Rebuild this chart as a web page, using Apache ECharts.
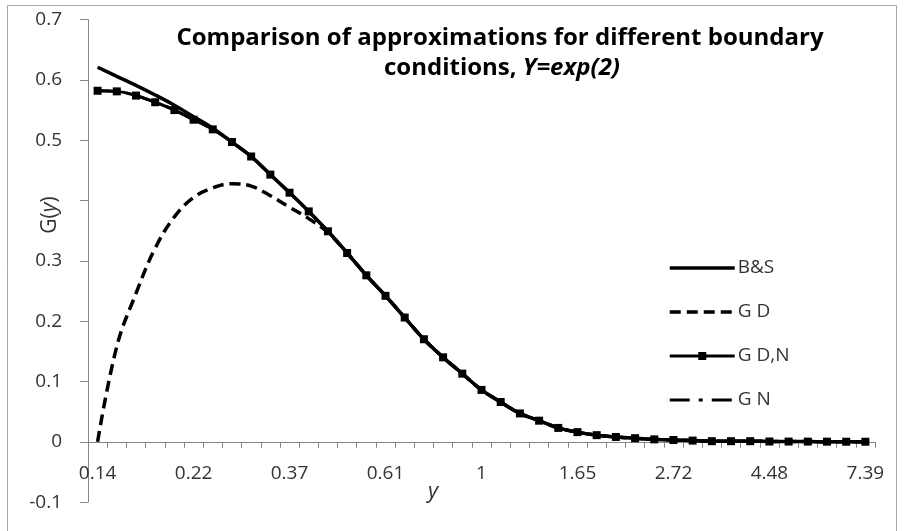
<!DOCTYPE html>
<html>
<head>
<meta charset="utf-8">
<script src="https://cdn.jsdelivr.net/npm/echarts@6/dist/echarts.min.js"></script>
<style>html,body{margin:0;padding:0;background:#fff}#c{width:904px;height:531px}</style>
</head>
<body>
<div id="c"></div>
<script>
const categories = ["0.14","0.15","0.17","0.18","0.20","0.22","0.25","0.27","0.30","0.33",
  "0.37","0.41","0.45","0.50","0.55","0.61","0.67","0.74","0.82","0.90",
  "1","1.11","1.22","1.35","1.49","1.65","1.82","2.01","2.23","2.46",
  "2.72","3.00","3.32","3.67","4.06","4.48","4.95","5.47","6.05","6.69","7.39"];

const seriesNames = ["B&S", "G D", "G D,N", "G N"];

const valuesBS = [0.621,0.606,0.591,0.575,0.558,0.539,0.520,0.497,0.473,0.443,
  0.413,0.382,0.349,0.313,0.276,0.242,0.206,0.170,0.140,0.113,
  0.086,0.066,0.047,0.035,0.023,0.016,0.011,0.008,0.006,0.004,
  0.003,0.002,0.001,0.001,0.001,0.0005,0.0004,0.0003,0.0002,0.0001,0.0001];

const valuesGD = [0,0.158,0.246,0.321,0.373,0.405,0.421,0.428,0.424,0.408,
  0.389,0.370,0.347,0.313,0.276,0.242,0.206,0.170,0.140,0.113,
  0.086,0.066,0.047,0.035,0.023,0.016,0.011,0.008,0.006,0.004,
  0.003,0.002,0.001,0.001,0.001,0.0005,0.0004,0.0003,0.0002,0.0001,0.0001];

const valuesGDN = [0.582,0.581,0.574,0.563,0.550,0.534,0.518,0.497,0.473,0.443,
  0.413,0.382,0.349,0.313,0.276,0.242,0.206,0.170,0.140,0.113,
  0.086,0.066,0.047,0.035,0.023,0.016,0.011,0.008,0.006,0.004,
  0.003,0.002,0.001,0.001,0.001,0.0005,0.0004,0.0003,0.0002,0.0001,0.0001];

const valuesGN = [0.582,0.581,0.574,0.563,0.550,0.534,0.518,0.497,0.473,0.443,
  0.413,0.382,0.349,0.313,0.276,0.242,0.206,0.170,0.140,0.113,
  0.086,0.066,0.047,0.035,0.023,0.016,0.011,0.008,0.006,0.004,
  0.003,0.002,0.001,0.001,0.001,0.0005,0.0004,0.0003,0.0002,0.0001,0.0001];

const yTicks = {min: -0.1, max: 0.7, interval: 0.1};
// the 0.4 tick label is covered by the axis title in the reference
const hiddenYLabels = [0.4];

const FONT = "'Open Sans', sans-serif";
const GRID_H = 482.5;
// x axis crosses the y axis at value 0
const xAxisOffset = -GRID_H * (0 - yTicks.min) / (yTicks.max - yTicks.min);

const chart = echarts.init(document.getElementById('c'), null, {renderer: 'canvas'});

const legendLine = (name, width, dash, hideSymbol) => ({
  name: name,
  lineStyle: {width: width, type: dash || 'solid', color: '#000'},
  itemStyle: hideSymbol ? {opacity: 0} : {color: '#000'}
});

const option = {
  animation: false,
  backgroundColor: '#fff',
  grid: {left: 88, top: 19.6, width: 787, height: GRID_H, containLabel: false, outerBoundsMode: 'none'},
  legend: {
    orient: 'vertical', left: 663, top: 253,
    itemWidth: 65, itemHeight: 10, itemGap: 24,
    textStyle: {fontFamily: FONT, fontSize: 19, color: '#333', lineHeight: 20, padding: [0,0,0,-2]},
    data: [
      legendLine(seriesNames[0], 3.5, null, true),
      legendLine(seriesNames[1], 3.5, [11, 6], true),
      legendLine(seriesNames[2], 3, null, false),
      legendLine(seriesNames[3], 3, [20, 9, 4, 9], true)
    ]
  },
  xAxis: {
    type: 'category', data: categories, boundaryGap: true, position: 'bottom',
    offset: xAxisOffset,
    axisLine: {onZero: false, lineStyle: {color: '#868686', width: 1}},
    axisTick: {show: true, interval: 0, length: 6, lineStyle: {color: '#868686'}},
    axisLabel: {interval: 4, margin: 22, fontFamily: FONT, fontSize: 19, color: '#333'},
    splitLine: {show: false}
  },
  yAxis: {
    type: 'value', min: yTicks.min, max: yTicks.max, interval: yTicks.interval,
    axisLine: {show: true, lineStyle: {color: '#868686', width: 1}},
    axisTick: {show: true, length: 8, lineStyle: {color: '#868686'}},
    axisLabel: {margin: 26, fontFamily: FONT, fontSize: 19, color: '#333',
      formatter: v => {
        const r = Math.round(v * 10) / 10;
        return hiddenYLabels.indexOf(r) >= 0 ? '' : String(r);
      }},
    splitLine: {show: false}
  },
  series: [
    {name: seriesNames[0], type: 'line', data: valuesBS, symbol: 'none', smooth: 0.4,
      lineStyle: {color: '#000', width: 3.5}, itemStyle: {color: '#000'}},
    {name: seriesNames[1], type: 'line', data: valuesGD, symbol: 'none', smooth: 0.4,
      lineStyle: {color: '#000', width: 3.5, type: [11, 6]}, itemStyle: {color: '#000'}},
    {name: seriesNames[2], type: 'line', data: valuesGDN, symbol: 'rect', symbolSize: 8, showSymbol: true, smooth: 0.4,
      lineStyle: {color: '#000', width: 3}, itemStyle: {color: '#000'}},
    {name: seriesNames[3], type: 'line', data: valuesGN, symbol: 'none', smooth: 0.4,
      lineStyle: {color: '#000', width: 3, type: [20, 9, 4, 9]}, itemStyle: {color: '#000'}}
  ],
  graphic: [
    {type: 'rect', shape: {x: 7.5, y: 5.5, width: 889, height: 560}, style: {fill: 'none', stroke: '#a6a6a6', lineWidth: 1}, silent: true},
    {type: 'text', x: 500, y: 38, style: {
      text: 'Comparison of approximations for different boundary',
      font: "bold 24px 'Open Sans', sans-serif", fill: '#000', align: 'center', verticalAlign: 'middle'}},
    {type: 'text', x: 502, y: 68, style: {
      text: '{a|conditions, }{b|Y=exp(2)}', align: 'center', verticalAlign: 'middle',
      rich: {
        a: {font: "bold 24px 'Open Sans', sans-serif", fill: '#000'},
        b: {font: "italic bold 24px 'Open Sans', sans-serif", fill: '#000'}
      }}},
    {type: 'text', x: 433, y: 492, style: {text: 'y', font: "italic 22px 'Open Sans', sans-serif", fill: '#333', align: 'center', verticalAlign: 'middle'}},
    {type: 'text', x: 50, y: 215, rotation: Math.PI / 2, style: {
      text: '{a|G(}{b|y}{a|)}', align: 'center', verticalAlign: 'middle',
      rich: {a: {font: "21px 'Open Sans', sans-serif", fill: '#333'}, b: {font: "italic 21px 'Open Sans', sans-serif", fill: '#333'}}}}
  ]
};
chart.setOption(option);
</script>
</body>
</html>
